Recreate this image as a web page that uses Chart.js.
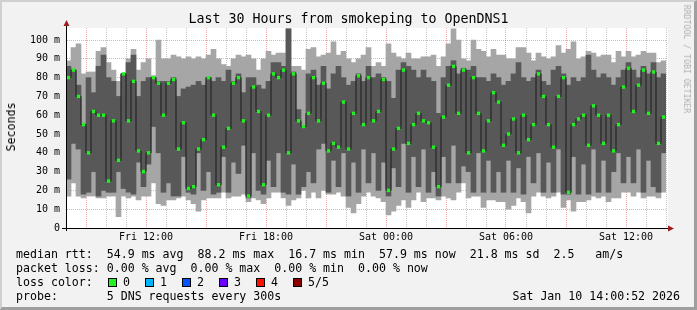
<!DOCTYPE html>
<html>
<head>
<meta charset="utf-8">
<script src="https://cdn.jsdelivr.net/npm/chart.js@4.4.1/dist/chart.umd.min.js"></script>
<style>
  body { margin: 0; background: #f2f2f2; }
  #wrap { position: relative; width: 697px; height: 310px; background: #f2f2f2; overflow: hidden;
          font-family: 'DejaVu Sans Mono', monospace; color: #000; }
  #wrap canvas { position: absolute; left: 0; top: 0; }
  .frame { position: absolute; left: 0; top: 0; width: 692px; height: 305px; pointer-events: none;
           border-left: 2px solid #d0d0d0; border-top: 2px solid #d0d0d0;
           border-right: 3px solid #9f9f9f; border-bottom: 3px solid #9f9f9f; }
  .txt { position: absolute; white-space: pre; font-size: 11.6px; line-height: 14px; }
  .box { position: absolute; width: 7px; height: 7px; border: 1px solid #000; }
  #title { position: absolute; left: 0; top: 11px; width: 697px; text-align: center;
           font-size: 13.3px; line-height: 16px; white-space: pre; }
  #ylab { position: absolute; left: 11px; top: 127px; font-size: 11.6px; white-space: pre;
          transform: translate(-50%, -50%) rotate(-90deg); }
  #mark { position: absolute; left: 687px; top: 59px; font-size: 8.2px; color: #b0b0b0; white-space: pre;
          transform: translate(-50%, -50%) rotate(90deg); }
</style>
</head>
<body>
<div id="wrap">
  <canvas id="chart" width="697" height="310"></canvas>
  <div id="title">Last 30 Hours from smokeping to OpenDNS1</div>
  <div id="ylab">Seconds</div>
  <div id="mark">RRDTOOL / TOBI OETIKER</div>
  <div class="txt" style="left:16px;top:247px">median rtt:  54.9 ms avg  88.2 ms max  16.7 ms min  57.9 ms now  21.8 ms sd  2.5   am/s</div>
  <div class="txt" style="left:16px;top:261px">packet loss: 0.00 % avg  0.00 % max  0.00 % min  0.00 % now</div>
  <div class="txt" style="left:16px;top:275px">loss color:</div>
  <div id="loss"></div>
  <div class="txt" style="left:16px;top:289px">probe:       5 DNS requests every 300s</div>
  <div class="txt" style="right:17px;top:289px">Sat Jan 10 14:00:52 2026</div>
  <div class="frame"></div>
</div>
<script>
// ── DATA (ms, one slot = 15 min, Fri 08:00 → Sat 14:00) ──
const smokeMax = [
  89, 96, 98, 82, 83, 83, 94, 96, 88, 84, 78, 82, 90, 95, 84, 88, 90, 81, 100, 90, 90, 92, 91, 90, 91, 90, 91, 90, 92, 95,
  90, 87, 86, 90, 92, 91, 92, 90, 84, 90, 94, 92, 93, 93, 106, 86, 86, 84, 95, 96, 91, 92, 93, 99, 92, 94, 90, 88, 90, 92,
  96, 86, 88, 86, 98, 93, 91, 90, 93, 90, 90, 91, 91, 92, 86, 91, 98, 106, 100, 90, 89, 100, 95, 94, 91, 95, 92, 92, 90, 90,
  96, 96, 93, 89, 93, 91, 90, 91, 97, 93, 95, 99, 90, 91, 94, 93, 91, 92, 92, 88, 94, 91, 94, 91, 92, 94, 93, 93, 88, 89
];
const coreHi = [
  86, 84, 76, 55, 80, 72, 86, 92, 80, 78, 70, 82, 88, 92, 70, 78, 80, 80, 78, 78, 78, 80, 70, 74, 75, 76, 78, 76, 80, 78,
  80, 78, 84, 78, 82, 72, 80, 80, 76, 74, 78, 88, 88, 86, 106, 83, 63, 54, 82, 84, 76, 86, 74, 82, 86, 80, 76, 78, 82, 78,
  86, 80, 82, 80, 78, 69, 84, 88, 86, 84, 80, 84, 80, 78, 61, 80, 86, 89, 82, 85, 84, 86, 80, 80, 78, 82, 80, 76, 78, 82,
  88, 80, 78, 80, 84, 78, 76, 84, 86, 82, 76, 80, 78, 80, 92, 84, 80, 82, 80, 76, 80, 84, 88, 84, 80, 86, 82, 88, 80, 82
];
const coreLo = [
  26, 45, 42, 18, 19, 30, 17, 20, 19, 19, 30, 21, 19, 18, 35, 22, 34, 54, 40, 19, 24, 17, 17, 38, 19, 18, 40, 20, 30, 18,
  19, 38, 19, 35, 29, 44, 16, 40, 20, 18, 36, 22, 40, 19, 18, 34, 18, 22, 30, 24, 42, 45, 19, 36, 22, 40, 17, 35, 19, 42,
  24, 40, 20, 35, 17, 32, 22, 45, 19, 38, 22, 42, 19, 30, 17, 38, 24, 44, 24, 33, 30, 19, 40, 19, 36, 19, 30, 19, 36, 19,
  32, 18, 38, 24, 40, 19, 35, 19, 42, 18, 18, 38, 18, 34, 18, 42, 19, 36, 19, 30, 40, 24, 38, 24, 42, 19, 36, 22, 19, 40
];
const smokeMin = [
  17, 24, 17, 16, 17, 17, 16, 16, 17, 17, 6, 17, 16, 17, 15, 17, 17, 24, 13, 12, 15, 15, 16, 17, 15, 13, 9, 15, 16, 16,
  16, 19, 16, 17, 17, 18, 14, 16, 15, 13, 16, 19, 19, 16, 12, 15, 16, 20, 16, 19, 16, 20, 18, 18, 19, 17, 11, 8, 13, 17,
  19, 17, 16, 14, 7, 9, 12, 15, 11, 15, 19, 14, 16, 16, 15, 17, 16, 15, 19, 24, 16, 17, 17, 11, 15, 15, 14, 14, 10, 12,
  16, 14, 8, 17, 19, 17, 16, 17, 19, 11, 15, 9, 14, 14, 15, 17, 16, 17, 14, 16, 16, 19, 19, 17, 19, 16, 17, 17, 16, 19
];
const median = [
  80, 84, 70, 55, 40, 62, 60, 60, 25, 57, 36, 82, 57, 78, 41, 30, 40, 80, 77, 60, 77, 79, 42, 56, 21, 22, 42, 47, 80, 60,
  23, 43, 53, 77, 80, 57, 17, 75, 62, 23, 60, 82, 80, 84, 40, 82, 57, 54, 61, 80, 57, 77, 41, 45, 43, 67, 42, 61, 81, 55,
  80, 57, 62, 79, 20, 42, 53, 84, 45, 55, 61, 57, 56, 43, 22, 59, 76, 86, 61, 84, 40, 80, 61, 41, 57, 72, 67, 44, 50, 58,
  40, 60, 47, 55, 82, 70, 55, 43, 70, 80, 19, 55, 58, 60, 44, 65, 60, 45, 60, 41, 55, 75, 85, 62, 76, 84, 61, 83, 45, 59
];
const startHour = 8;          // Fri 08:00
const slotMinutes = 15;
const labelHours = [4, 10, 16, 22, 28];
const labelTexts = ['Fri 12:00', 'Fri 18:00', 'Sat 00:00', 'Sat 06:00', 'Sat 12:00'];
const lossColors = ['#22f222', '#00b4ff', '#0055ff', '#6a00ff', '#ff1100', '#880000'];
const lossNames = ['0', '1', '2', '3', '4', '5/5'];

const MAJOR = 'rgba(235,60,60,0.45)';
const MINOR = 'rgba(120,120,120,0.42)';
const ARROW = '#9a1e1e';

const slots = median.map((_, i) => {
  const m = startHour * 60 + i * slotMinutes;
  const h = Math.floor(m / 60) % 24, mm = m % 60;
  return (m < 24 * 60 ? 'Fri ' : 'Sat ') + String(h).padStart(2, '0') + ':' + String(mm).padStart(2, '0');
});

// ── LOSS COLOR LEGEND ──
const lossEl = document.getElementById('loss');
lossColors.forEach((c, i) => {
  const x = 108 + i * 37;
  lossEl.insertAdjacentHTML('beforeend',
    `<div class="box" style="left:${x}px;top:278px;background:${c}"></div>` +
    `<div class="txt" style="left:${x + 15}px;top:275px">${lossNames[i]}</div>`);
});

// ── PLUGINS ──
const plotBg = {
  id: 'plotBg',
  beforeDraw(chart) {
    const { ctx, chartArea: a } = chart;
    ctx.save();
    ctx.fillStyle = '#ffffff';
    ctx.fillRect(a.left, a.top, a.right - a.left + 2, a.bottom - a.top);
    ctx.restore();
  }
};
const axisArrows = {
  id: 'axisArrows',
  afterDraw(chart) {
    const { ctx, chartArea: a } = chart;
    const y0 = Math.round(a.bottom) + 0.5, x0 = Math.round(a.left) + 0.5;
    ctx.save();
    ctx.strokeStyle = '#000';
    ctx.lineWidth = 1;
    ctx.beginPath();
    ctx.moveTo(a.left - 4, y0); ctx.lineTo(a.right + 3, y0);
    ctx.moveTo(x0, a.bottom + 3); ctx.lineTo(x0, a.top - 4);
    ctx.stroke();
    ctx.fillStyle = ARROW;
    ctx.beginPath();
    ctx.moveTo(x0, a.top - 8); ctx.lineTo(x0 - 3, a.top - 2); ctx.lineTo(x0 + 3, a.top - 2);
    ctx.closePath(); ctx.fill();
    ctx.beginPath();
    ctx.moveTo(a.right + 8, y0); ctx.lineTo(a.right + 2, y0 - 3); ctx.lineTo(a.right + 2, y0 + 3);
    ctx.closePath(); ctx.fill();
    ctx.restore();
  }
};

// ── CHART ──
const font = { family: 'DejaVu Sans Mono', size: 10 };
new Chart(document.getElementById('chart'), {
  type: 'bar',
  data: {
    labels: slots,
    datasets: [
      {
        label: 'smoke',
        data: smokeMin.map((v, i) => [v, smokeMax[i]]),
        backgroundColor: '#a6a6a6',
        grouped: false, barPercentage: 1, categoryPercentage: 1,
        borderWidth: 0, order: 3
      },
      {
        label: 'core',
        data: coreLo.map((v, i) => [v, coreHi[i]]),
        backgroundColor: '#585858',
        grouped: false, barPercentage: 1, categoryPercentage: 1,
        borderWidth: 0, order: 2
      },
      {
        type: 'line',
        label: 'median',
        data: median,
        stepped: 'middle',
        borderColor: '#1b1b1b',
        borderWidth: 1,
        pointStyle: 'rect',
        pointRadius: 2.4,
        pointBackgroundColor: '#22f222',
        pointBorderWidth: 0,
        order: 1
      }
    ]
  },
  options: {
    responsive: false,
    animation: false,
    devicePixelRatio: 1,
    layout: { padding: { left: 0, top: 28, right: 31, bottom: 68 } },
    plugins: { legend: { display: false }, tooltip: { enabled: false } },
    scales: {
      x: { display: false, offset: true },
      xt: {
        type: 'linear', position: 'bottom', min: 0, max: 30, z: 1, offset: false,
        afterFit: s => { s.height = 14; },
        grid: {
          color: c => (c.tick && (startHour + c.tick.value) % 3 === 0 ? MAJOR : MINOR),
          drawTicks: false, lineWidth: 1, offset: false
        },
        border: { display: true, color: '#000', width: 1, dash: [1, 1] },
        ticks: {
          stepSize: 1, autoSkip: false, maxRotation: 0, padding: 3, color: '#000', font,
          callback: v => { const k = labelHours.indexOf(v); return k >= 0 ? labelTexts[k] : ''; }
        }
      },
      y: {
        min: 0, max: 106.4, z: 1,
        afterFit: s => { s.width = 66; },
        afterBuildTicks: s => { s.ticks = s.ticks.filter(t => t.value % 5 === 0 && t.value <= 105); },
        grid: {
          color: c => (c.tick && c.tick.value % 10 === 0 ? MAJOR : MINOR),
          drawTicks: false, lineWidth: 1
        },
        border: { display: true, color: '#000', width: 1, dash: [1, 1] },
        ticks: {
          stepSize: 5, padding: 6, color: '#000', font,
          callback: v => (v % 10 !== 0 ? '' : v === 0 ? '0' : v + ' m')
        }
      }
    }
  },
  plugins: [plotBg, axisArrows]
});
</script>
</body>
</html>
